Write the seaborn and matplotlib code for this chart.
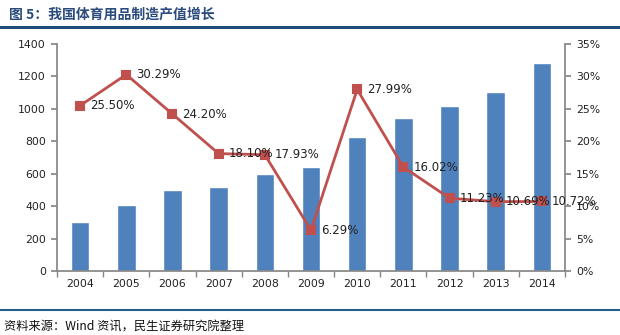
import matplotlib
matplotlib.use("Agg")
import matplotlib.pyplot as plt
import seaborn as sns
import pandas as pd
import numpy as np
from matplotlib.ticker import FixedLocator, PercentFormatter

years = ["2004", "2005", "2006", "2007", "2008", "2009", "2010", "2011", "2012", "2013", "2014"]
output_value = [305, 405, 498, 516, 600, 643, 828, 942, 1020, 1104, 1281]
growth = [25.50, 30.29, 24.20, 18.10, 17.93, 6.29, 27.99, 16.02, 11.23, 10.69, 10.72]
growth_labels = ["25.50%", "30.29%", "24.20%", "18.10%", "17.93%", "6.29%", "27.99%", "16.02%", "11.23%", "10.69%", "10.72%"]

title = "图 5：我国体育用品制造产值增长"
source = "资料来源：Wind 资讯，民生证券研究院整理"

sns.set_theme(style="white")
plt.rcParams['font.family'] = ['Noto Sans CJK SC', 'DejaVu Sans']

df = pd.DataFrame({"year": years, "value": output_value, "growth": growth})

fig = plt.figure(figsize=(6.2, 3.35), dpi=100)
ax = fig.add_axes([57/620, 1-271/335, (565-57)/620, (271-44)/335])

bar_color = "#4F81BD"
line_color = "#C0504D"
axis_color = "#868686"

sns.barplot(data=df, x="year", y="value", color=bar_color, width=0.4,
            saturation=1, ax=ax, order=years)
ax.set_ylim(0, 1400)
ax.set_yticks(range(0, 1401, 200))
ax.set_xlim(-0.5, len(years) - 0.5)
ax.set_xlabel("")
ax.set_ylabel("")

ax2 = ax.twinx()
sns.pointplot(data=df, x="year", y="growth", order=years, color=line_color,
              markers="s", markersize=6, linewidth=2, ax=ax2)
ax2.set_ylim(0, 35)
ax2.set_yticks(range(0, 36, 5))
ax2.yaxis.set_major_formatter(PercentFormatter(decimals=0))
ax2.set_xlim(-0.5, len(years) - 0.5)
ax2.set_ylabel("")
ax2.set_xlabel("")

for i, (g, lab) in enumerate(zip(growth, growth_labels)):
    ax2.text(i + 0.22, g, lab, ha="left", va="center", fontsize=8.5,
             color="#222222", family=['DejaVu Sans'])

for a in (ax, ax2):
    for s in a.spines.values():
        s.set_visible(False)
    a.grid(False)

ax.spines['left'].set_visible(True)
ax.spines['left'].set_color(axis_color)
ax.spines['bottom'].set_visible(True)
ax.spines['bottom'].set_color(axis_color)
ax2.spines['right'].set_visible(True)
ax2.spines['right'].set_color(axis_color)

ax.tick_params(axis='y', which='major', length=4, color=axis_color, direction='out',
               labelsize=7.8, left=True, pad=4)
ax2.tick_params(axis='y', which='major', length=4, color=axis_color, direction='out',
                labelsize=7.8, right=True, pad=4)
ax.tick_params(axis='x', which='major', length=0, labelsize=7.8, pad=6)
ax.xaxis.set_minor_locator(FixedLocator(np.arange(-0.5, len(years), 1.0)))
ax.tick_params(axis='x', which='minor', length=4, color=axis_color, bottom=True, direction='out')
for lbl in ax.get_xticklabels() + ax.get_yticklabels() + ax2.get_yticklabels():
    lbl.set_family(['DejaVu Sans'])
    lbl.set_color("#222222")

# title and decorations
fig.text(9/620, 1-15/335, title, fontsize=10, fontweight="bold", color="#2A4B7C",
         ha="left", va="center")
fig.add_artist(plt.Line2D([0, 1], [1-27/335, 1-27/335], color="#1F4E79", linewidth=2.2))
fig.add_artist(plt.Line2D([0, 1], [1-310/335, 1-310/335], color="#1F5F8B", linewidth=1.5))
fig.text(4/620, 1-327/335, source, fontsize=8.8, color="#111111", ha="left", va="center")

fig.savefig("out.png", dpi=100)
